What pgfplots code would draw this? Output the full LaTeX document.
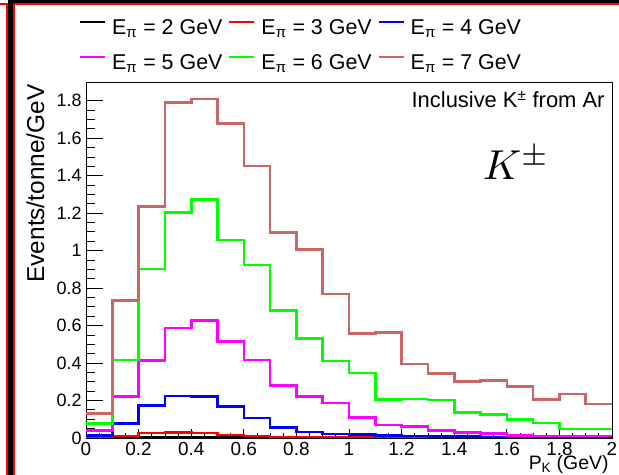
\documentclass[border=0pt]{standalone}
\usepackage{pgfplots}
\pgfplotsset{compat=1.18}
\usepackage{fontspec}
\setmainfont{Liberation Sans}
\definecolor{cBrown}{RGB}{204,102,102}
\definecolor{cGreen}{RGB}{0,255,0}
\definecolor{cMag}{RGB}{255,0,255}
\definecolor{cBlue}{RGB}{0,0,255}
\definecolor{cRed}{RGB}{255,0,0}
\pgfplotstableread{
x e2 e3 e4 e5 e6 e7
0.0 0.001 0.002 0.012 0.039 0.078 0.132
0.1 0.002 0.011 0.078 0.220 0.416 0.733
0.2 0.004 0.026 0.172 0.413 0.902 1.234
0.3 0.005 0.028 0.225 0.586 1.204 1.789
0.4 0.005 0.026 0.221 0.626 1.274 1.809
0.5 0.004 0.017 0.167 0.514 1.057 1.679
0.6 0.003 0.011 0.107 0.416 0.923 1.451
0.7 0.002 0.006 0.056 0.281 0.679 1.096
0.8 0.002 0.004 0.031 0.220 0.532 1.007
0.9 0.001 0.003 0.021 0.186 0.410 0.768
1.0 0.001 0.003 0.018 0.108 0.347 0.559
1.1 0.001 0.002 0.012 0.070 0.205 0.562
1.2 0.001 0.002 0.010 0.060 0.208 0.394
1.3 0.001 0.002 0.008 0.039 0.203 0.345
1.4 0.001 0.001 0.007 0.030 0.136 0.300
1.5 0.001 0.001 0.006 0.025 0.124 0.306
1.6 0.001 0.001 0.005 0.013 0.100 0.274
1.7 0.001 0.001 0.004 0.011 0.079 0.206
1.8 0.001 0.001 0.004 0.010 0.048 0.235
1.9 0.001 0.001 0.003 0.010 0.048 0.181
2.0 0.001 0.001 0.003 0.010 0.048 0.181
}\histdata
\begin{document}
\begin{tikzpicture}
\path[use as bounding box] (0bp,0bp) rectangle (619bp,475bp);
% canvas frame
\fill[cRed] (0bp,470bp) rectangle (619bp,472bp);
\fill[black] (8bp,472bp) rectangle (619bp,475bp);
\fill[cRed] (6bp,0bp) rectangle (15bp,470bp);
\fill[black] (8bp,0bp) rectangle (13bp,475bp);
% x-tick axis (underneath)
\begin{axis}[
  at={(86bp,37bp)}, anchor=south west, scale only axis,
  width=526bp, height=356bp,
  xmin=0, xmax=2, ymin=0, ymax=1.9,
  axis line style={line width=0.8bp},
  xtick={0,0.2,...,2.01},
  xticklabels={0,0.2,0.4,0.6,0.8,1,1.2,1.4,1.6,1.8,2},
  minor x tick num=3,
  xtick pos=bottom, xtick align=inside,
  ytick=\empty,
  major tick length=9bp, minor tick length=5bp,
  tick style={line width=0.8bp, black},
  ticklabel style={font=\fontsize{19}{21}\selectfont},
  xticklabel style={yshift=-1bp},
]
\end{axis}
\begin{axis}[
  at={(86bp,37bp)}, anchor=south west, scale only axis,
  width=526bp, height=356bp,
  xmin=0, xmax=2, ymin=0, ymax=1.9,
  axis line style={line width=0.8bp},
  xtick=\empty,
  ytick={0,0.2,...,1.81},
  yticklabels={0,0.2,0.4,0.6,0.8,1,1.2,1.4,1.6,1.8},
  minor y tick num=3,
  ytick pos=left, ytick align=inside,
  major tick length=17bp, minor tick length=9bp,
  tick style={line width=0.8bp, black},
  ticklabel style={font=\fontsize{18}{20}\selectfont},
  yticklabel style={xshift=-1bp},
  every axis plot/.append style={const plot, line width=2.6bp, no markers},
  legend columns=3,
  legend cell align=left,
  legend image code/.code={\draw[#1, line width=2bp] (0bp,7bp) -- (25bp,7bp);},
  legend style={draw=none, fill=none, at={(-0.0133,1.177)}, anchor=north west,
    font=\fontsize{21.5}{24}\selectfont, inner sep=0pt,
    row sep=15bp,
    nodes={inner sep=0pt, text height=15bp, text depth=5bp},
    /tikz/every odd column/.append style={column sep=6bp},
    /tikz/every even column/.append style={column sep=6bp}},
]
\addplot[black] table[x=x,y=e2] {\histdata};
\addlegendentry{E\textsubscript{π} = 2 GeV}
\addplot[cRed] table[x=x,y=e3] {\histdata};
\addlegendentry{E\textsubscript{π} = 3 GeV}
\addplot[cBlue] table[x=x,y=e4] {\histdata};
\addlegendentry{E\textsubscript{π} = 4 GeV}
\addplot[cMag] table[x=x,y=e5] {\histdata};
\addlegendentry{E\textsubscript{π} = 5 GeV}
\addplot[cGreen] table[x=x,y=e6] {\histdata};
\addlegendentry{E\textsubscript{π} = 6 GeV}
\addplot[cBrown] table[x=x,y=e7] {\histdata};
\addlegendentry{E\textsubscript{π} = 7 GeV}
\end{axis}
% labels
\node[rotate=90, anchor=base east, font=\fontsize{24.5}{26}\selectfont] at (44bp,394bp) {Events/tonne/GeV};
\node[anchor=base east, font=\fontsize{19.5}{24}\selectfont] at (612bp,6bp) {P\textsubscript{K} (GeV)};
\node[anchor=base east, font=\fontsize{22}{24}\selectfont] at (608bp,367bp) {Inclusive K\textsuperscript{±} from Ar};
\node[anchor=base west, scale=4.2, inner sep=0pt] at (482bp,295bp) {$K^{\pm}$};
\end{tikzpicture}
\end{document}
